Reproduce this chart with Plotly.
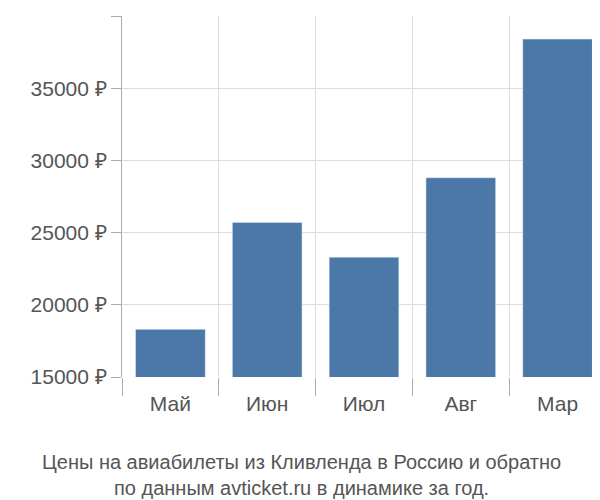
import plotly.graph_objects as go

months = ["Май", "Июн", "Июл", "Авг", "Мар"]
prices = [18300, 25700, 23300, 28800, 38400]
ytickvals = [15000, 20000, 25000, 30000, 35000, 40000]
yticktext = [f"{v} ₽" for v in ytickvals]
title_text = "Цены на авиабилеты из Кливленда в Россию и обратно<br>по данным avticket.ru в динамике за год."

fig = go.Figure(go.Bar(x=months, y=prices, marker_color="#4c78a8", width=0.72))
fig.update_layout(
    width=600, height=500,
    margin=dict(l=114, r=2, t=8, b=131),
    paper_bgcolor="white", plot_bgcolor="white",
    font=dict(family="Liberation Sans, Arial", size=21, color="#555"),
    showlegend=False,
    xaxis=dict(tickson="boundaries", showgrid=True, gridcolor="#ddd", ticks="outside",
               ticklen=18, tickcolor="#aaa", showline=False, range=[-0.5, 4.5],
               ticklabelstandoff=12),
    yaxis=dict(range=[15000, 40000], tickvals=ytickvals, ticktext=yticktext,
               showgrid=True, gridcolor="#ddd", showline=True, linecolor="#aaa",
               ticks="outside", ticklen=10, tickcolor="#aaa", zeroline=False),
    annotations=[dict(text=title_text, xref="paper", yref="paper", x=0.37, y=-0.2,
                      xanchor="center", yanchor="top", showarrow=False,
                      font=dict(size=20, color="#555"))],
)
fig.write_html("out.html")
